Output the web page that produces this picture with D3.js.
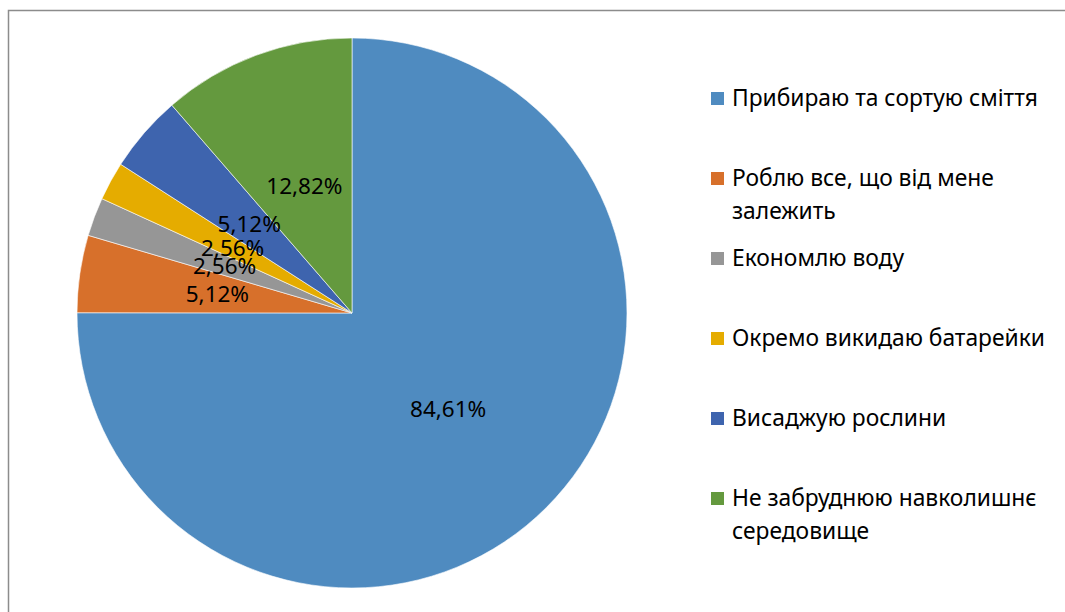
<!DOCTYPE html>
<html>
<head>
<meta charset="utf-8">
<script src="https://cdn.jsdelivr.net/npm/d3@7"></script>
<style>
  body { margin: 0; background: #fff; }
  text { font-family: "Noto Sans", "Open Sans", sans-serif; fill: #000; }
</style>
</head>
<body>
<div id="chart"></div>
<script>
const width = 1065;
const height = 612;

// data
const categories = [
  "Прибираю та сортую сміття",
  "Роблю все, що від мене залежить",
  "Економлю воду",
  "Окремо викидаю батарейки",
  "Висаджую рослини",
  "Не забруднюю навколишнє середовище"
];
const values = [84.61, 5.12, 2.56, 2.56, 5.12, 12.82];
const labels = ["84,61%", "5,12%", "2,56%", "2,56%", "5,12%", "12,82%"];
// legend entries broken onto lines the way the picture shows them
const legendLines = [
  ["Прибираю та сортую сміття"],
  ["Роблю все, що від мене", "залежить"],
  ["Економлю воду"],
  ["Окремо викидаю батарейки"],
  ["Висаджую рослини"],
  ["Не забруднюю навколишнє", "середовище"]
];
const colors = ["#4f8bc0", "#d7702b", "#969696", "#e5ac00", "#3e64ae", "#64993e"];

const svg = d3.select("#chart")
  .append("svg")
  .attr("width", width)
  .attr("height", height)

// chart frame
svg.append("rect")
  .attr("x", 8.5)
  .attr("y", 10.5)
  .attr("width", 1080)
  .attr("height", 640)
  .attr("fill", "none")
  .attr("stroke", "#8c8c8c")
  .attr("stroke-width", 1.5)

const cx = 352, cy = 313, r = 275;

const data = categories.map((c, i) => ({ name: c, value: values[i], label: labels[i], i }));

const pie = d3.pie()
  .sort(null)
  .value(d => d.value);

const arcs = pie(data);

const arc = d3.arc().innerRadius(0).outerRadius(r);
const labelArc = d3.arc().innerRadius(136).outerRadius(136);

const g = svg.append("g")
  .attr("transform", `translate(${cx}, ${cy})`)

g.selectAll(".slice")
  .data(arcs)
  .join("path")
    .classed("slice", true)
    .attr("d", arc)
    .attr("fill", d => colors[d.data.i])
    .attr("stroke", "#fff")
    .attr("stroke-width", 0.6)

// labels overlap in the small slices, as in the original
g.selectAll(".lbl")
  .data(arcs)
  .join("text")
    .classed("lbl", true)
    .attr("transform", d => `translate(${labelArc.centroid(d)})`)
    .attr("text-anchor", "middle")
    .attr("dy", "0.36em")
    .style("font-size", "22.5px")
    .text(d => d.data.label)

//////////// legend ////////////
const legend = svg.append("g")
  .attr("transform", "translate(711, 98)")

const item = legend.selectAll(".item")
  .data(legendLines)
  .join("g")
    .classed("item", true)
    .attr("transform", (d, i) => `translate(0, ${i * 80})`)

item.append("rect")
  .attr("x", 0)
  .attr("y", -6)
  .attr("width", 13)
  .attr("height", 13)
  .attr("fill", (d, i) => colors[i])

item.append("text")
  .style("font-size", "22.8px")
  .selectAll("tspan")
  .data(d => d)
  .join("tspan")
    .attr("x", 21)
    .attr("dy", (d, j) => j === 0 ? "0.36em" : "33px")
    .text(d => d)
</script>
</body>
</html>
